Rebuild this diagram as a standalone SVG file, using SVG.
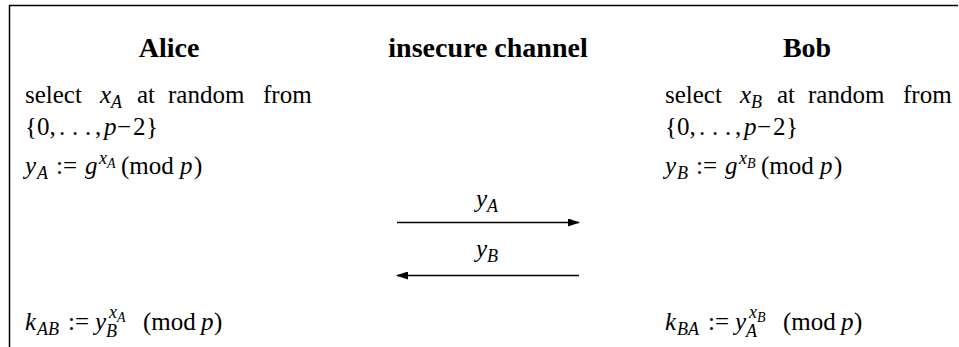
<svg xmlns="http://www.w3.org/2000/svg" width="959" height="347" viewBox="0 0 959 347">
<style>
text{font-family:"Liberation Serif","Times New Roman",serif;font-size:25px;fill:#000}
.h{font-size:28px;font-weight:bold;text-anchor:middle}
.i{font-style:italic}
.s{font-size:18px;font-style:italic}
.ss{font-size:14px;font-style:italic}
.frame{stroke:#000;stroke-width:1.5;fill:none}
.conn{stroke:#000;stroke-width:1.3;fill:none}
</style>
<defs>
<marker id="ah" markerWidth="12" markerHeight="8" refX="11" refY="4" orient="auto" markerUnits="userSpaceOnUse">
<path d="M0,0 L12,4 L0,8 Z" fill="#000"/>
</marker>
</defs>
<rect width="959" height="347" fill="#fff"/>
<path class="frame" d="M9.5,347 V5.5 H958"/>
<g id="alice">
<text class="h" x="169" y="57">Alice</text>
<text y="103"><tspan x="25">select</tspan><tspan x="100" class="i">x</tspan><tspan class="s" dy="5">A</tspan><tspan x="137" dy="-5">at</tspan><tspan x="168">random</tspan><tspan x="263">from</tspan></text>
<text y="135"><tspan x="25">{0,</tspan><tspan x="59">.</tspan><tspan x="72">.</tspan><tspan x="85">.</tspan><tspan x="95">,</tspan><tspan x="104" class="i">p</tspan><tspan x="117">−</tspan><tspan x="133">2</tspan><tspan x="146">}</tspan></text>
<text y="174"><tspan x="25" class="i">y</tspan><tspan x="37" class="s" dy="5">A</tspan><tspan x="56" dy="-5">:=</tspan><tspan x="85" class="i">g</tspan><tspan class="s" x="99" dy="-10">x</tspan><tspan class="ss" dy="4">A</tspan><tspan x="121" dy="6">(mod</tspan><tspan x="180" class="i">p</tspan><tspan x="194">)</tspan></text>
<text y="330"><tspan x="25" class="i">k</tspan><tspan class="s" x="37" dy="5">AB</tspan><tspan x="68" dy="-5">:=</tspan><tspan x="95" class="i">y</tspan><tspan class="s" x="106" dy="7">B</tspan><tspan class="s" x="109" dy="-19">x</tspan><tspan class="ss" dy="4">A</tspan><tspan x="143" dy="8">(mod</tspan><tspan x="201" class="i">p</tspan><tspan x="214">)</tspan></text>
</g>
<g id="channel">
<text class="h" x="488" y="57">insecure channel</text>
<text x="487" y="207" text-anchor="middle"><tspan class="i">y</tspan><tspan class="s" dy="5">A</tspan></text>
<text x="487" y="257" text-anchor="middle"><tspan class="i">y</tspan><tspan class="s" dy="5">B</tspan></text>
</g>
<g id="bob">
<text class="h" x="807" y="57">Bob</text>
<text y="103"><tspan x="665">select</tspan><tspan x="740" class="i">x</tspan><tspan class="s" dy="5">B</tspan><tspan x="777" dy="-5">at</tspan><tspan x="808">random</tspan><tspan x="903">from</tspan></text>
<text y="135"><tspan x="665">{0,</tspan><tspan x="699">.</tspan><tspan x="712">.</tspan><tspan x="725">.</tspan><tspan x="735">,</tspan><tspan x="744" class="i">p</tspan><tspan x="757">−</tspan><tspan x="773">2</tspan><tspan x="786">}</tspan></text>
<text y="174"><tspan x="665" class="i">y</tspan><tspan x="677" class="s" dy="5">B</tspan><tspan x="696" dy="-5">:=</tspan><tspan x="725" class="i">g</tspan><tspan class="s" x="739" dy="-10">x</tspan><tspan class="ss" dy="4">B</tspan><tspan x="761" dy="6">(mod</tspan><tspan x="820" class="i">p</tspan><tspan x="834">)</tspan></text>
<text y="330"><tspan x="665" class="i">k</tspan><tspan class="s" x="677" dy="5">BA</tspan><tspan x="708" dy="-5">:=</tspan><tspan x="735" class="i">y</tspan><tspan class="s" x="746" dy="7">A</tspan><tspan class="s" x="749" dy="-19">x</tspan><tspan class="ss" dy="4">B</tspan><tspan x="783" dy="8">(mod</tspan><tspan x="841" class="i">p</tspan><tspan x="854">)</tspan></text>
</g>
<g id="connectors">
<path class="conn" d="M397,222.5 H579" marker-end="url(#ah)"/>
<path class="conn" d="M579,275.5 H397" marker-end="url(#ah)"/>
</g>
</svg>
